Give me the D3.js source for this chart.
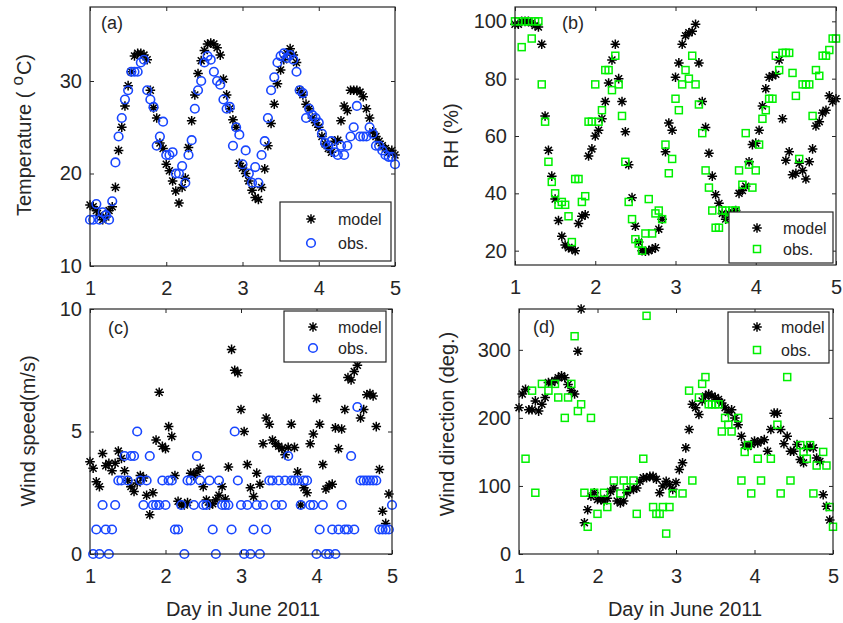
<!DOCTYPE html>
<html>
<head>
<meta charset="utf-8">
<script src="https://cdn.jsdelivr.net/npm/d3@7"></script>
<style>
  body { margin: 0; background: #fff; }
  svg { display: block; font-family: "Liberation Sans", Arial, sans-serif; }
  .tick text { fill: #262626; font-size: 20px; }
  .tick line { stroke: #262626; }
</style>
</head>
<body>
<div id="chart"></div>
<script>
// Hourly samples, day 1 00:00 through day 5 00:00
const startDay = 1;
const stepDay = 1 / 24;

const dayTicks = [1, 2, 3, 4, 5];
const tempTicks = [10, 20, 30];
const rhTicks = [20, 40, 60, 80, 100];
const speedTicks = [0, 5, 10];
const dirTicks = [0, 100, 200, 300];

const tempModel = [
  16.6, 16.4, 16.0, 15.5, 15.0, 15.3, 16.0, 16.4, 18.5, 22.5,
  25.0, 27.3, 29.5, 31.0, 32.7, 33.0, 33.0, 32.8, 32.3, 29.0,
  27.1, 26.0, 23.3, 22.7, 21.0, 20.3, 19.2, 18.1, 16.8, 18.5,
  19.5, 22.8, 25.7, 28.5, 30.8, 32.2, 33.3, 34.0, 34.1, 34.0,
  33.6, 32.8, 30.2, 28.5, 27.0, 25.8, 25.0, 21.1, 20.6, 20.0,
  19.2, 18.2, 17.4, 17.2, 18.5, 20.5, 23.0, 25.4, 27.5, 29.7,
  31.2, 32.3, 33.0, 33.5, 32.8, 32.0, 29.0, 28.5, 27.5, 27.0,
  26.0, 25.5, 25.0, 24.0, 23.2, 22.7, 22.3, 23.5, 23.6, 25.7,
  27.3, 26.8, 29.0, 29.0, 29.0, 28.8, 28.3, 27.0, 26.0, 24.5,
  24.0, 23.5, 23.0, 22.7, 22.3, 22.5, 22.0
];
const tempObs = [
  15.0, 15.0, 16.7, 15.0, 15.8, 15.5, 15.0, 17.0, 21.2, 24.0,
  26.0, 28.0, 29.0, 31.0, 31.0, 31.0, 32.0, 32.3, 29.0, 28.0,
  27.2, 23.0, 24.0, 25.6, 22.0, 22.0, 22.3, 20.0, 20.0, 20.8,
  19.0, 22.0, 23.6, 27.0, 29.0, 30.0, 32.0, 32.7, 32.3, 31.0,
  30.0, 29.6, 28.0, 27.0, 27.2, 23.0, 25.0, 24.2, 21.0, 22.5,
  20.0, 19.0, 20.7, 19.0, 22.0, 23.5, 26.0, 29.0, 30.4, 32.0,
  32.7, 33.0, 32.5, 32.8, 32.3, 31.0, 29.0, 28.7, 26.0, 27.0,
  26.3, 26.0, 25.5, 24.3, 23.3, 23.0, 23.5, 22.3, 22.0, 23.0,
  22.0, 23.0, 24.0, 25.0, 27.3, 24.0, 24.0, 24.0, 25.0, 24.3,
  23.0, 23.0, 22.5, 22.0, 21.8, 21.8, 21.0
];

const rhModel = [
  99, 99, 100, 100, 100, 99.5, 98.5, 98, 92, 67,
  55, 46, 38, 30.5, 25, 22, 21, 20.7, 20, 29.5,
  32, 32.5, 53, 55.5, 60, 62, 66, 72, 78.5, 86.5,
  92, 80, 72, 61.5, 50, 38.5, 28.5, 23, 20, 19.8,
  20, 20.5, 21, 27.5, 31, 54.5, 64.5, 62, 80.5, 85.5,
  92, 95, 96, 96.5, 99, 85.5, 72, 63, 54, 46,
  39.5, 36.5, 33, 31, 33, 33.5, 34, 40, 41, 42.5,
  51, 57, 57.5, 62, 70.5, 76.5, 80.5, 81, 81.5, 86.5,
  66, 51.5, 54.5, 46.5, 47, 50.5, 48, 45, 51, 55.5,
  63.5, 65, 68, 69, 74, 72, 73
];
const rhObs = [
  100, 100, 91, 100, 100, 94, 100, 100, 78, 65,
  51, 44, 40, 36, 37, 36, 32, 23, 45, 45,
  37, 39, 65, 65, 78, 65, 69, 83, 83, 76,
  88, 78, 67, 51, 37, 31, 24, 22.5, 20, 26,
  38, 26, 33, 34, 31, 57, 47, 52, 73, 69,
  78, 83, 80, 88, 78, 71, 61, 48, 42, 34,
  28, 28, 34, 34, 31, 34, 34, 48, 43, 61,
  50, 42, 48, 57, 66, 69, 73, 73, 88, 83,
  89, 89, 89, 82, 74, 52, 78, 78, 78, 67,
  83, 81, 88, 88, 90, 94, 94
];

const speedModel = [
  3.77, 3.5, 2.95, 2.75, 4.1, 3.6, 3.7, 3.4, 3.7, 4.2,
  3.9, 3.4, 3.0, 2.75, 2.55, 2.9, 3.2, 3.1, 2.4, 1.6,
  2.5, 4.65, 6.6, 4.4, 4.3, 5.2, 4.8, 3.2, 2.15, 2.0,
  2.0, 2.1, 3.3, 3.2, 3.35, 3.5, 2.75, 2.2, 2.0, 2.05,
  2.2, 2.4, 2.75, 2.25, 3.55, 8.35, 7.5, 7.4, 5.9, 5.0,
  3.65, 2.7, 2.35, 3.3, 2.85, 4.5, 5.55, 5.3, 4.65, 4.5,
  4.4, 4.3, 4.05, 4.35, 5.3, 4.35, 3.35, 2.0, 2.7, 2.5,
  4.5, 4.9, 6.35, 5.3, 3.65, 2.65, 2.8, 2.85, 5.15, 4.3,
  5.1, 5.9, 7.2, 7.1, 7.45, 7.7, 5.55, 5.9, 6.5, 6.55,
  6.45, 5.2, 3.45, 1.75, 1.25, 2.45, null
];
const speedObs = [
  null, 0, 1, 0, 2, 1, 0, 1, 2, 3,
  3, 4, 3, 4, 4, 5, 3, 2, 3, 4,
  2, 2, 2, 3, 2, 3, 3, 1, 1, 2,
  0, 3, 3, 2, 4, 3, 2, 2, 3, 1,
  0, 3, 2, 2, 2, 1, 5, 3, 2, 0,
  2, 0, 1, 2, 0, 2, 1, 3, 3, 2,
  3, 2, 3, 4, 3, 3, 3, 2, 3, 3,
  2, 2, 0, 1, 2, 0, 0, 1, 0, 1,
  2, 1, 1, 4, 1, 6, 3, 3, 3, 3,
  3, 3, 1, 1, 1, 1, 2
];

const dirModel = [
  215, 235, 242, 212, 212, 225, 210, 220, 230, 252,
  252, 255, 259, 262, 259, 249, 240, 235, 298, 360,
  46, 65, 85, 90, 80, 80, 78, 82, 92, 97,
  78, 75, 78, 90, 95, 95, 97, 107, 112, 112,
  114, 114, 110, 90, 100, 107, 102, 95, 105, 124,
  134, 156, 183, 220, 215, 205, 225, 232, 235, 232,
  230, 227, 222, 215, 208, 212, 200, 190, 173, 160,
  158, 161, 166, 163, 166, 168, 151, 183, 207, 207,
  183, 162, 173, 151, 151, 161, 139, 134, 156, 158,
  156, 141, 136, 87, 70, 50, null
];
const dirObs = [
  null, null, 140, null, 240, 90, null, 250, null, 240,
  null, 250, 230, null, 200, 230, 250, 320, 210, 220,
  90, 40, 200, 90, 59, null, 90, 69, null, 108,
  null, 89, 108, 98, null, 108, 59, null, 140, 350,
  null, 69, 59, 59, 69, 30, 69, 89, null, null,
  89, null, 240, 108, null, 230, 250, 260, 220, 220,
  220, 220, 180, 200, 190, 180, null, 200, 108, 150,
  160, 89, null, 140, 108, null, null, 140, null, 190,
  89, null, 260, 108, null, null, 160, 150, 140, 160,
  89, 130, null, 150, 130, 69, 40
];

const axisColor = '#262626';
const obsBlue = '#1846ff';
const obsGreen = '#00f000';

// panel boxes, in page pixels
const panels = [
  { tag: '(a)', model: tempModel, obs: tempObs, obsShape: 'circle', obsColor: obsBlue,
    yDomain: [10, 38], yTicks: tempTicks, box: [90, 395, 7, 266],
    tagPos: [101, 29], ylabelPos: [24, 135], xlabelPos: null,
    legend: { x: 280, y: 202, w: 111, h: 59, mx: 31, tx: 58, rows: [17, 41] } },
  { tag: '(b)', model: rhModel, obs: rhObs, obsShape: 'square', obsColor: obsGreen,
    yDomain: [15, 105], yTicks: rhTicks, box: [515, 836, 7, 265],
    tagPos: [562, 29], ylabelPos: [451, 136], xlabelPos: null,
    legend: { x: 729, y: 212, w: 104, h: 51, mx: 28, tx: 54, rows: [16, 37] } },
  { tag: '(c)', model: speedModel, obs: speedObs, obsShape: 'circle', obsColor: obsBlue,
    yDomain: [0, 10], yTicks: speedTicks, box: [90, 392, 309, 554],
    tagPos: [108, 334], ylabelPos: [28, 431], xlabelPos: [243, 616],
    legend: { x: 284, y: 311, w: 102, h: 51, mx: 29, tx: 54, rows: [16, 37] } },
  { tag: '(d)', model: dirModel, obs: dirObs, obsShape: 'square', obsColor: obsGreen,
    yDomain: [0, 360], yTicks: dirTicks, box: [519, 833, 309, 554],
    tagPos: [533, 333], ylabelPos: [447, 424], xlabelPos: [685, 616],
    legend: { x: 728, y: 312, w: 101, h: 51, mx: 29, tx: 53, rows: [15, 38] } }
];
const yLabels = ['Temperature (', 'RH (%)', 'Wind speed(m/s)', 'Wind direction (deg.)'];

const svg = d3.select('#chart')
  .append('svg')
  .attr('width', 843)
  .attr('height', 623);

// asterisk marker like MATLAB '*'
function starPath(s) {
  const d = s * 0.72;
  return `M${-s},0L${s},0M0,${-s}L0,${s}M${-d},${-d}L${d},${d}M${-d},${d}L${d},${-d}`;
}

function drawMarker(g, shape, color, x, y) {
  if (shape === 'star') {
    g.append('path').attr('d', starPath(4.8)).attr('transform', `translate(${x},${y})`)
      .attr('stroke', '#000').attr('stroke-width', 1.5).attr('fill', 'none');
  } else if (shape === 'circle') {
    g.append('circle').attr('cx', x).attr('cy', y).attr('r', 4.3)
      .attr('stroke', color).attr('stroke-width', 1.6).attr('fill', 'none');
  } else {
    g.append('rect').attr('x', x - 3.5).attr('y', y - 3.5).attr('width', 7).attr('height', 7)
      .attr('stroke', color).attr('stroke-width', 1.5).attr('fill', 'none');
  }
}

function drawPanel(p, i) {
  const [x0, x1, y0, y1] = p.box;
  const x = d3.scaleLinear().domain([1, 5]).range([x0, x1]);
  const y = d3.scaleLinear().domain(p.yDomain).range([y1, y0]);
  const g = svg.append('g');

  const toPoints = vals => vals
    .map((v, k) => ({ day: startDay + k * stepDay, v }))
    .filter(d => d.v !== null);

  // model first, obs on top
  const gm = g.append('g');
  toPoints(p.model).forEach(d => drawMarker(gm, 'star', '#000', x(d.day), y(d.v)));
  const go = g.append('g');
  toPoints(p.obs).forEach(d => drawMarker(go, p.obsShape, p.obsColor, x(d.day), y(d.v)));

  // axes with inward ticks on all four sides
  const tick = -4;
  const fmt = d3.format('d');
  g.append('g').attr('transform', `translate(0,${y1})`)
    .call(d3.axisBottom(x).tickValues(dayTicks).tickFormat(fmt)
      .tickSize(tick).tickPadding(15).tickSizeOuter(0));
  g.append('g').attr('transform', `translate(0,${y0})`)
    .call(d3.axisTop(x).tickValues(dayTicks).tickSize(tick).tickFormat('').tickSizeOuter(0));
  g.append('g').attr('transform', `translate(${x0},0)`)
    .call(d3.axisLeft(y).tickValues(p.yTicks).tickFormat(fmt)
      .tickSize(tick).tickPadding(8).tickSizeOuter(0));
  g.append('g').attr('transform', `translate(${x1},0)`)
    .call(d3.axisRight(y).tickValues(p.yTicks).tickSize(tick).tickFormat('').tickSizeOuter(0));
  g.selectAll('.domain').remove();
  g.selectAll('.tick line').attr('stroke-width', 1);

  g.append('rect')
    .attr('x', x0).attr('y', y0).attr('width', x1 - x0).attr('height', y1 - y0)
    .attr('fill', 'none').attr('stroke', axisColor).attr('stroke-width', 1.2);

  g.append('text').attr('x', p.tagPos[0]).attr('y', p.tagPos[1])
    .attr('font-size', 18).attr('fill', axisColor).text(p.tag);

  // y label
  const yl = g.append('text')
    .attr('transform', `translate(${p.ylabelPos[0]},${p.ylabelPos[1]}) rotate(-90)`)
    .attr('text-anchor', 'middle').attr('dy', '0.35em')
    .attr('font-size', 20).attr('fill', axisColor);
  if (i === 0) {
    yl.append('tspan').text(yLabels[0]);
    yl.append('tspan').attr('font-size', 17).attr('dx', 6).attr('dy', '-0.45em').text('o');
    yl.append('tspan').attr('dx', 1).attr('dy', '0.38em').text('C)');
  } else {
    yl.text(yLabels[i]);
  }

  if (p.xlabelPos) {
    g.append('text').attr('x', p.xlabelPos[0]).attr('y', p.xlabelPos[1])
      .attr('text-anchor', 'middle').attr('font-size', 20).attr('fill', axisColor)
      .text('Day in June 2011');
  }

  // legend
  const L = p.legend;
  const lg = g.append('g');
  lg.append('rect').attr('x', L.x).attr('y', L.y).attr('width', L.w).attr('height', L.h)
    .attr('fill', '#fff').attr('stroke', axisColor).attr('stroke-width', 1.2);
  const entries = [['star', '#000', 'model'], [p.obsShape, p.obsColor, 'obs.']];
  entries.forEach(([shape, color, label], k) => {
    const cy = L.y + L.rows[k];
    drawMarker(lg, shape, color, L.x + L.mx, cy);
    lg.append('text').attr('x', L.x + L.tx).attr('y', cy).attr('dy', '0.35em')
      .attr('font-size', 16).attr('fill', axisColor).text(label);
  });
}

panels.forEach(drawPanel);
</script>
</body>
</html>
